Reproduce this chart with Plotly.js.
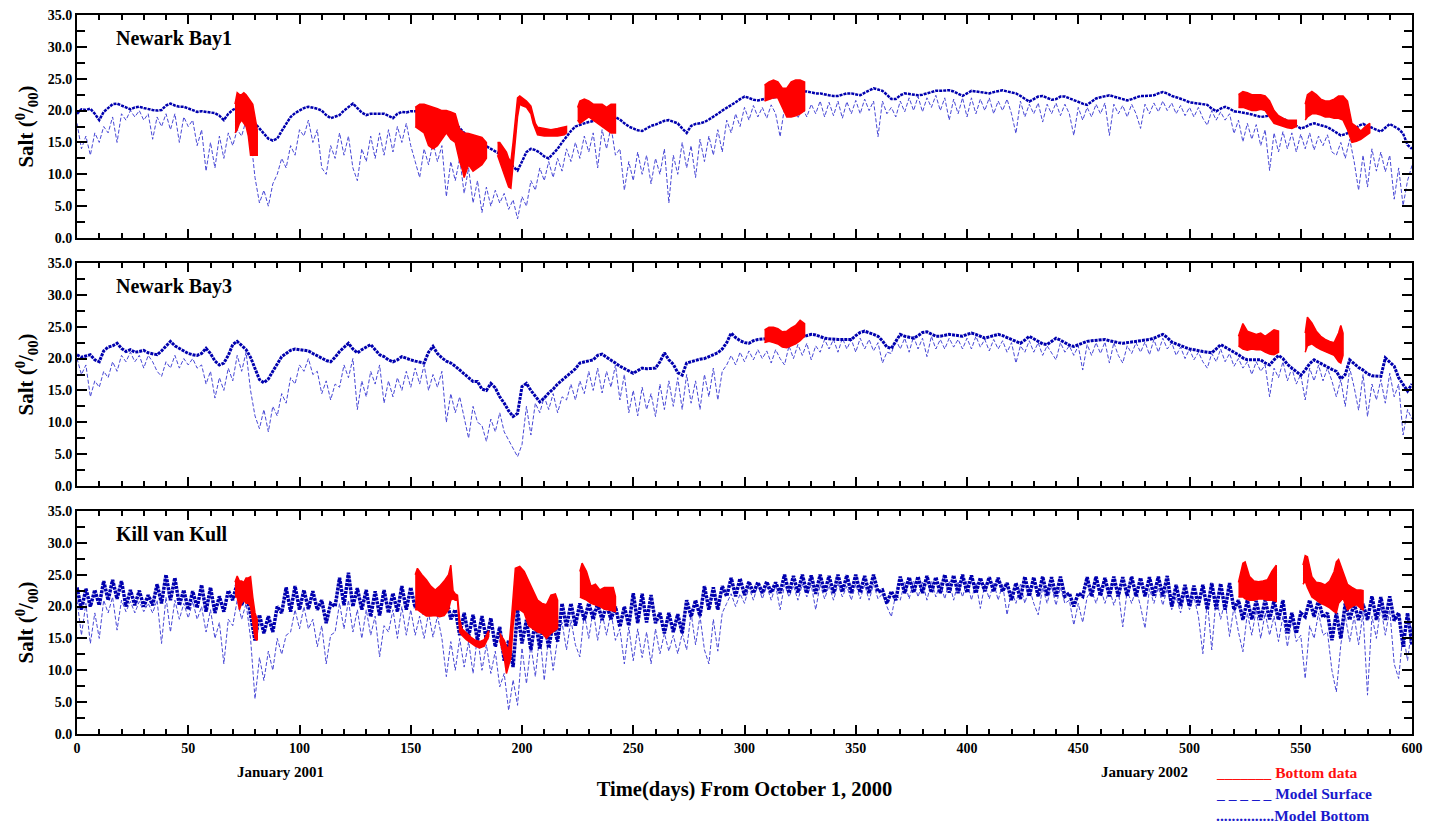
<!DOCTYPE html>
<html><head><meta charset="utf-8">
<script src="https://cdn.plot.ly/plotly-3.0.1.min.js"></script>
<style>html,body{margin:0;padding:0;background:#fff}</style>
</head><body><div id="chart" style="width:1429px;height:825px"></div>
<script>
// ---- model series: one value every STEP days, day 0..600 ----
const STEP = 2;
const nb1Bottom = [
19.5,20.2,20.1,20.3,19.5,18.5,19.8,20.4,21,21.1,20.8,20.6,20.2,20.5,20.6,20.4,20.2,20.1,20,20.1,20.8,21.1,20.8,20.6,20.6,
20.3,20,19.8,19.9,19.8,19.7,19.6,19.2,18.5,19.5,20.1,20.5,20,19.5,18.8,18,17.2,16.4,15.6,15.3,15.6,16.8,18,19,19.6,
20,20.4,20.6,20.5,20.3,20,19.3,18.8,19,19.3,20,20.6,21.1,20.4,19.7,19.3,19.5,19.5,19.5,19.5,19.2,18.8,19.5,19.8,19.7,
19.9,19.9,19.8,19.6,19.5,19.4,19.5,19.5,19.2,18.5,18,17.2,16.5,16,15.6,15.2,14.8,14.3,14,13.6,13.2,13,12.2,11.2,10.6,
12,13.5,14,13.8,13.4,12.8,12.5,13.2,14,15,15.9,16.8,17.5,17.8,18,18.2,18.3,18.5,18.8,19.2,19.3,19,18.6,18,17.5,
17.2,16.9,16.8,17.2,17.6,17.8,18.1,18.4,18.5,18.3,18,17.2,16.5,17.6,17.9,18,18.2,18.6,19,19.5,20,20.4,20.9,21.3,21.8,
22.2,22,21.7,21.6,21.8,21.9,22,22.1,22.2,22.3,22.4,22.6,22.8,23,23,22.8,22.7,22.7,22.5,22.4,22.3,22.3,22.5,22.7,22.7,
22.5,22.4,22.8,23.2,23.5,23.3,23.1,22.5,21.8,21.8,22.4,22.7,22.6,22.5,22.4,22.5,22.7,22.9,23.1,23.1,23.1,23.2,23,22.6,22.3,
22.7,23.1,23,22.9,22.8,22.7,22.9,23.1,23.2,23,22.8,22.7,22.3,21.8,21.4,21.8,22.2,22.3,22,21.7,21.8,22.2,22.2,21.9,21.6,
21.4,21.1,20.9,21.4,21.9,22.1,22.3,22.4,22.2,22,21.8,21.6,21.8,22.1,22.3,22.3,22.3,22.4,22.7,22.9,22.7,22.3,22.1,21.9,21.6,
21.3,21.2,21.1,21,20.9,20.3,19.9,20.3,20.6,20.3,19.9,19.8,19.7,19.5,19.4,19.2,19,19.1,19.2,19.3,19,18.7,18.5,18.1,17.6,
17.2,17.4,17.8,18,17.8,17.6,17.4,17,16.5,16.1,16.3,16.6,16.9,17.6,17.9,17.6,17.3,17,16.7,17.3,17.9,17.5,17.1,16.4,14.6,
14];
const nb1Surface = [
18,14,16,13,16.5,15,17.5,16.5,19,15,19.5,18.5,20,19,20,18.5,19.5,15.5,19,17.5,19.5,17,19.5,15,19,
17.5,18.5,14.5,17,10.5,15,11,16,12.5,16.5,14.5,17,16,18.5,16,9.5,5.5,7.5,5,8.5,10,12.5,11,14.5,13,
17,16,18.5,15,17,11,10,14.5,12.5,16.5,13,16,11,9,14,12,16,12.5,16.5,13,17,13.5,17.5,15,18,
14.5,12,9.5,14,11.5,15,12,14.5,6.5,12,9,12.5,7,11,5.5,9,4,8,5,7.5,5.5,7,4.5,6,3,
6.5,5,9,7.5,11,9,12,9.5,12.5,10.5,14,12,15,12.5,16,13.5,16.5,11,17,14,17.5,13,14,7.5,12,
9,13.5,10,13,8.5,12.5,10,14,5.5,13,10,15,11,14.5,9.5,15.5,12,16,13,17,13.5,18.5,16.5,19.5,17.5,
20.5,18.5,20.8,19,20.5,18.8,20.9,19.5,15.9,20.5,19,20.8,18.8,20.5,19,21,19.5,21.5,19,21.3,19.2,21.5,18.8,21.4,19.5,
21.6,19.5,21.8,20,21.5,15.9,21.5,19.5,20.5,19,21.5,19.8,22,20,22.2,19.8,22,20.5,22.4,20,22,18.5,21.8,19.5,22,
19,22,19.5,21.8,20,22,19.5,21.5,20,21.8,19.5,16.4,21.5,19,21,19.5,21.2,18.2,21,19.5,21.2,19.2,21,19.5,16.1,
20.5,18.5,20.5,19,21,19.5,21.2,16.1,21,19.5,20.8,19,21,19.5,17.2,21,19.5,21.2,19.8,21.5,20,21.2,19.5,20.8,19.2,
20.5,19,20.5,18.8,17.7,20,18.5,19.8,18.5,19.5,16.4,18.5,15.1,18,15.5,17.8,14.5,17,10.6,16.5,13.5,16.7,14,16.5,13.5,
16.3,14,16.5,13.8,16,14.5,16.2,13.5,13,15,12.5,15.5,12,7.5,13,8,14,10.5,13.5,10.4,13,6.1,11,5.1,9,
11.4];
const nb3Bottom = [
20.6,20.2,20.4,20.6,19.8,19.5,21.2,21.8,22,22.4,21.6,21.1,21.4,21,21.1,21.3,20.9,20.8,20.6,21.2,22,22.7,22,21.6,21.2,
20.8,20.6,20.5,20.8,21.6,20.8,19.6,19,19.3,20.5,22.2,22.7,22,21.4,20.2,18.5,16.7,16.2,16.8,18,19.2,20.3,20.8,21.3,21.5,
21.4,21.4,21.2,20.8,20.4,20,19.7,19.5,20.2,21.1,21.8,22.4,21.5,20.9,21.4,21.8,22.2,21.4,20.6,20.3,19.8,19.5,19.8,20.3,20,
19.8,19.6,19.4,19.3,21,21.9,20.8,20.1,19.6,19.3,18.8,18.2,17.6,16.9,16.4,16.4,15.2,15,16.1,15.4,14,13,11.8,10.9,11.4,
15.6,16.1,15,14,13.2,13.8,14.6,15.2,16,16.6,17.2,17.7,18.4,19.3,19.5,19.7,19.8,20.5,20.7,20.2,19.8,19.3,18.8,18.4,18,
17.7,18.1,18.5,18.4,18.5,18.5,19.5,20.9,19.8,19.1,17.8,17.4,19.3,19.5,19.8,19.9,20,20.3,20.5,20.9,21.5,22.5,24,23.3,22.8,
22.5,22.4,22.8,23,23.1,23.2,23.2,22.9,22.6,22.4,22.7,23,23.2,23.4,23.6,23.8,23.7,23.4,23.2,23.1,23,23,23,23,23,
23.6,24.1,24.3,24.1,23.8,23.5,22.8,21.8,21.6,22.7,23.8,23.5,23.3,23.2,23.6,24.1,24.2,23.8,23.5,23.5,23.6,23.8,23.7,23.6,23.5,
23.8,24,23.8,23.5,23.2,23.4,23.6,23.8,23.6,23.3,23,22.8,22.4,22.9,23.5,23.1,22.7,22.3,22.2,22.7,23.2,22.9,22.5,22.1,21.9,
22.2,22.4,22.7,22.8,22.9,23,23,22.8,22.6,22.5,22.4,22.5,22.6,22.7,22.7,22.9,23,23.2,23.5,23.8,23.3,22.6,22.3,22,21.7,
21.5,21.4,21.2,21.1,21,20.9,21.5,22.2,21.8,21.4,21.1,20.6,20.1,19.8,19.8,19.8,19.8,19.3,19,19.8,20.5,20,19.1,18.5,17.9,
17.4,18.2,19.2,19.8,19.4,19,18.7,18.3,18,16.8,17.5,19.8,19.2,18.6,18.2,17.6,17.3,17.2,17.2,20.1,19.4,18.8,17,15.9,14.9,
16];
const nb3Surface = [
20,17.5,19,14,16.5,15.5,18,17,19.5,18,20.5,19.5,21,19.5,20.5,18.5,20.5,19.5,18,17.2,19.5,18.5,20.5,18.5,20,
19,20,18.5,19,16,18,13.8,17,15,18.5,16.5,20.5,18,21,15,11,9,12,8.5,12.5,11,14.5,13,17,16,
19,18,20,17.5,18,14.5,16.5,13.5,16,15.5,19,17,20,12,16.5,14,18,16,19,13,16.5,14,17,15,18,
15.5,18.5,16,19,15,17.5,15.5,18,10,14.5,11.5,14,10.5,7.5,12.5,10,9.5,7,10.5,8.5,11.5,8.5,7.2,6,4.6,
6.5,12.5,8,13,11.5,14,12,14.5,11.5,14,13.5,16,13.5,16.5,14.5,18,15,18.5,14.6,18,15.5,19,13.5,17.5,11.5,
15,11,15.5,12,14.5,10.9,16,12,16.5,12.5,17,12,17.5,13,16.5,12,17.5,14,18.5,13.5,18,19,20.5,19,21,
19.5,21.2,19.8,21.4,20,21.2,19.3,21.4,20,19,22,20,22.2,20.5,22.4,19.8,22,21,23,21.5,23,21,23.2,21.5,23,
21,23.2,21.5,23,21.2,22.5,19.3,21,20.8,23,21.5,23.2,21,23.5,21.5,23.2,20.3,23.5,21.5,23,21.5,23.2,21.8,23,21.5,
23.2,21.5,23.5,21.8,23,21.2,23,21.5,22.8,21,22.5,19.3,22,21,22.8,21,22.5,20.5,22,20.8,19.8,22.5,21,22,20.5,
22,18.2,22.2,20.5,22.5,20.8,22.6,19.3,22.5,20.5,19.3,22,20.8,22.5,21,22.6,20.6,23,21,23.2,21.5,22.5,20.5,21.8,20,
21.5,19.8,21,19.5,18.5,20.8,19.5,21.5,19.5,20.8,18.8,20,18.5,19.5,17.5,19.5,18,19,14,18.5,17,19.5,16.5,18.5,16,
17.5,13.5,18.5,16.5,19,16.5,18.5,16.5,14,16.7,12.5,18.5,15.5,11.9,17.5,10.9,16,13.5,16.7,13,17.7,14,16,8,12,
10.5];
const kvkBottom = [
23,19.5,22.8,20,22.6,20.2,24,21,24.2,21.2,24,20,22.6,20.2,22.5,20,21.8,20.2,23.5,20.5,25,21,24.5,20.2,22.6,
19.5,22.4,19.8,23.4,19.2,23,19,21.6,19.2,22.5,21,23.7,20.2,22.6,19,14.7,18.7,15.8,18.5,16,20,19,23,19.2,23.2,
19.5,22.6,19.6,22.4,19.5,21,17.4,20.5,20,24.5,20.2,25.3,20,22.9,19.5,22.6,18.4,22.4,18.6,22.6,19,22.1,19.2,23.2,19.5,
23,19.8,21.6,18.7,21.5,18.8,21.6,18.7,21.4,18,19.5,15.5,19,15.3,18.7,14.7,18.5,14.8,18.2,13.7,16.8,11.5,14.7,10.5,19.5,
14.2,17.9,13.2,17.8,13.4,17.9,13.5,17.5,14.5,20.5,16.8,20.5,17,20.5,17.9,20.5,18,20.5,17.9,20.3,18,20,16.8,20,17,
22.1,17.4,22,17.5,21.8,17.4,19,15.8,19,16,18.8,15.8,21,18.4,21,18.5,23.2,19.5,23,19.5,23.2,21.6,24.5,21.6,24.4,
21.8,23.9,22.1,23.8,22.1,23.9,22.2,23.8,22.1,25,22.1,24.8,22.2,25,22.1,24.9,22,25,22.2,24.8,22.1,25,22.3,24.9,22.1,
25,22.2,24.8,22.1,25,22.3,22.6,20.5,22.4,21,24.7,22.1,24.6,22.2,24.7,22.1,24.8,22.2,24.6,22.1,25,22.2,24.9,22.1,25,
22.2,24.9,22.1,24.5,22.4,24.6,22.4,24.5,22.4,23.7,21,23.7,21.2,24.7,21.6,24.6,21.6,24.7,21.7,24.6,21.6,24.7,21.6,22.1,20,
22.1,21.6,24.6,21.6,24.7,21.7,24.5,21.6,24.7,21.6,24.6,21.7,24.7,21.6,24.5,21.6,24.6,21.7,24.7,21.6,24.8,20,23.4,20.1,23.4,
20,23.3,20.2,23.4,19.5,23.7,19.6,23.6,19.5,23.7,19.5,21,17.9,21,18,20.9,17.9,21,18,20.9,17.9,21,15.8,19,15.8,
19,18.4,21,18.4,21,18.3,19,14.7,19,15,20.5,17.9,20.5,17.9,20.4,17.9,21.6,17.9,21.5,17.9,21.6,17.8,19,13.7,19,
14];
const kvkSurface = [
21,15.5,20.5,14.2,19,15,21,19,21.5,16.3,21,19.2,20.8,19,20.8,19.2,20.5,19,21,14.2,21.5,16,21,18,20.5,
18.2,20.8,18,20,16,19.5,15,17.5,11,18,17,21,18,20.5,15,5.5,12,8.4,13,10,15,12.5,15.5,16,19.5,
16.5,20,16.5,18,13.7,17,11,15.5,16,20.5,16.5,21,16,19.5,15,19.5,15.5,18.5,12.1,17,16,19.5,15,20,15.5,
19.5,15.5,18.5,15,19,15.2,18.5,15,9,14.5,10,15,10.5,14.5,9.5,15.5,10,14,9.5,13,7.4,9.5,3.7,8.5,4.5,
13.5,7.9,14,9,15.8,8.4,15.5,10,15,17.5,13.2,17.9,14,12.1,19,15,19.5,14.7,19,15.5,19.2,14.7,16.5,11,16.8,
11.5,16.5,12,16,11,16.5,12.6,15.8,13,15.5,12.6,15.8,13.2,19,14,18.5,13.2,11,18,13,19,20.5,22,20,22,
20.5,23,21,23.5,21.2,23.2,21,23.3,19.5,23.5,21.5,23.3,21,23.5,21.5,23.4,19.5,23.5,21.2,23.3,21,23.5,21.5,23.2,21,
23.5,21.2,23.4,21,23.5,21.2,22,20,18.4,22,21,23.8,21.2,24,21.5,23.8,21,24,21.5,23.8,21.2,24,21,23.8,21.5,
24,21,23.8,19.7,23.5,21.2,23.8,21,23.5,18.7,22.5,20.5,23.5,20.5,23,20.5,18.7,23,20.5,23.2,20.2,23,20.5,21,17.1,
20.5,17.5,21.5,22.5,20.5,23,20.5,22.8,20.2,22.5,16.8,22.5,20.5,22.8,20,16.6,22.8,20.5,23,20.2,22.8,19.5,21.5,19,22,
19.5,21.5,18.5,12.6,21,13.2,21.5,18,21,15.3,20,16,12.9,19,15.5,19.5,15,19,15.5,18.5,14.5,18.5,13.7,18,14.5,
15.5,8.7,17,15,19,15.5,16,10,6.6,14,18.5,14.5,18.5,14,19,6.1,18.5,15,20,15.5,19.5,11,8.7,16,11.5,
17];

// ---- bottom data (observed): day, low and high of the tidal range; null separates records ----
const nb1RedDays = [71,72,73,74,75,76,77,78,79,80,81,null,
 152,154,156,158,160,162,164,166,168,170,172,173,174,176,178,180,182,184,null,
 189,190,191,192,193,194,195,196,197,198,199,200,202,204,205,206,207,210,213,216,219,220,null,
 225,226,228,230,232,234,236,238,240,242,null,
 309,311,313,315,317,319,321,323,325,327,null,
 522,524,526,528,530,532,534,536,538,540,542,544,546,548,null,
 552,553,555,557,559,561,563,565,567,569,571,573,575,577,579,581];
const nb1RedLow = [16.5,17,18,18.5,18,17.5,16,13,13,13,13,null,
 17.5,17,16.5,14.5,14,14.5,15.5,16.5,15.5,15,12,11,9.5,11.5,10.5,11,11.5,12.5,null,
 13,12,11,10,9,8,7.8,11,15,19,21,20.8,20.5,19.5,18,17,16.2,16,16,16,16.2,16.5,null,
 18.5,18,18.5,19,18.5,18,17.5,17,16.5,16.5,null,
 21.5,21.8,22,22,20.5,19,19,19.2,19.5,20,null,
 20.5,20.5,20.2,20,20,20.2,20,19,18,17.8,17.5,17.3,17.2,17.5,null,
 18.5,19,19.5,19.5,19.3,19,19,18.8,18.8,18.5,17,15,15.2,15.5,16,16.5];
const nb1RedHigh = [21,22.8,22.5,22.5,22.8,22.5,22,21.5,21,19,17,null,
 20.5,21,21,20.8,20.5,20.3,20,20,19.8,19.5,17,16.8,16.5,16.4,16.2,16,15.8,15,null,
 15,15,14.5,14,13.5,12.5,12,15,19,22,22.3,22,21.5,20.7,19.5,18,17.4,17.2,17,17.2,17.4,17.5,null,
 20.5,21.5,21.8,21.5,21,21,21,20.5,21,21,null,
 24,24.5,24.8,24.5,23.5,23.5,24.5,24.8,24.8,24.5,null,
 22.5,23,22.8,22.5,22.5,22.5,22.3,21.5,20,19.2,18.8,18.5,18.5,18.5,null,
 21,22.5,23,22.5,21.8,21.5,21.5,21.8,22.3,22.3,21.5,18,17.5,16.8,17.5,18];

const nb3RedDays = [309,311,313,315,317,319,321,323,325,327,null,
 522,524,526,528,530,532,534,536,538,540,null,
 552,553,555,557,559,561,563,565,567,568,569];
const nb3RedLow = [22.5,22.7,22.5,22.3,21.8,21.7,22,22.3,22.8,23.5,null,
 22,21.5,21.3,21.5,21.4,21.4,21,20.7,20.6,21,null,
 21,22,22.3,21.8,21.4,21,20.8,20.5,19.5,19.3,20.5];
const nb3RedHigh = [24.5,24.9,24.9,24.7,24.2,24.3,24.8,25.2,26,25.5,null,
 23.5,25.5,24.3,24,23.8,24,23.5,24,24.5,24.3,null,
 24,26.5,25.6,24.3,23.5,23,22.7,22.5,24,25.2,24];

const kvkRedDays = [71,72,73,74,75,76,77,78,79,80,81,null,
 152,153,155,157,159,161,163,165,167,168,169,170,171,172,173,175,177,179,181,183,184,185,null,
 190,191,192,193,194,195,196,197,199,201,203,205,207,209,211,213,215,216,null,
 226,227,229,231,233,235,237,239,241,242,null,
 522,524,525,527,529,531,533,535,537,539,null,
 551,552,553,555,557,559,561,563,565,566,567,569,571,573,575,577,578];
const kvkRedLow = [21.5,21.5,19.5,20.5,21,20.5,20.5,20,17.5,15,14.7,null,
 19.5,19.5,19,18.5,18.5,18.6,18.4,18.6,19.5,21,21.2,21,21,16,15.5,14.8,14.3,13.8,13.5,13.8,14.5,15.3,null,
 14.7,13.5,12,9.5,10.5,12,17,19.5,19.5,19,17,16.5,16,15.8,15,15.8,16.3,16.6,null,
 21.5,21.3,21,20.5,20.3,20,19.6,19.5,19.3,19.2,null,
 21.5,21.5,21.2,21,21,21.2,21.2,21,21,20.8,null,
 23.5,24,23,21.5,21,20.5,20.2,19.8,19.2,19,20.5,21.3,19.5,20,20.3,19.7,19.5];
const kvkRedHigh = [23.8,24.8,24,24,23.8,24.5,24.5,24.7,21.5,19,18,null,
 25,26,25,24.2,23.2,22.6,23.2,24,25,26.5,22.5,22,21.8,18,16.5,15.8,15.2,14.7,14.5,14.8,15.5,16.2,null,
 15.8,15.2,14.7,13.8,13.2,17,21,26,26.3,25.5,24,22.6,21,20.5,20.3,21.8,22,21,null,
 25.5,26.8,25.5,23.2,23.5,22.6,23,23,23,21.6,null,
 23.8,26.8,27,24.7,24,23.9,24,24.2,25.5,26.5,null,
 26.5,28,27.8,24.7,23.8,23.7,23.4,24,25.5,27,27.4,25.5,23.5,23,22.6,22.6,22.5];

const panelNames = ['Newark Bay1','Newark Bay3','Kill van Kull'];
const yTickVals = [0,5,10,15,20,25,30,35];

// ---------------- drawing ----------------
const FONT = '"Liberation Serif","Times New Roman",Times,serif';
const SURF_COLOR = 'rgb(72,72,214)';
const BOT_COLOR = 'rgb(0,0,175)';
const RED = '#ff0000';

function dayAxis(vals){ return vals.map((v,i)=>i*STEP); }
function segments(days, lo, hi){
  const out=[]; let cur={x:[],lo:[],hi:[]};
  days.forEach((d,i)=>{
    if(d===null){ if(cur.x.length) out.push(cur); cur={x:[],lo:[],hi:[]}; }
    else { cur.x.push(d); cur.lo.push(lo[i]); cur.hi.push(hi[i]); }
  });
  if(cur.x.length) out.push(cur);
  return out;
}
function modelTraces(surf, bot, xa, ya, botWidth){
  return [
    {type:'scatter',mode:'lines',x:dayAxis(surf),y:surf,xaxis:xa,yaxis:ya,
     line:{color:SURF_COLOR,width:1,dash:'4px,2px'},hoverinfo:'skip',showlegend:false,name:'Model Surface'},
    {type:'scatter',mode:'lines',x:dayAxis(bot),y:bot,xaxis:xa,yaxis:ya,
     line:{color:BOT_COLOR,width:botWidth,dash:'3px,1px'},hoverinfo:'skip',showlegend:false,name:'Model Bottom'}
  ];
}
function redTraces(days, lo, hi, xa, ya){
  return segments(days, lo, hi).map(s=>({
    type:'scatter',mode:'lines',
    x:s.x.concat(s.x.slice().reverse()),
    y:s.hi.concat(s.lo.slice().reverse()),
    fill:'toself',fillcolor:RED,line:{color:RED,width:1.5},
    xaxis:xa,yaxis:ya,hoverinfo:'skip',showlegend:false,name:'Bottom data'}));
}

const traces = [].concat(
  modelTraces(nb1Surface, nb1Bottom, 'x', 'y', 2.5),
  modelTraces(nb3Surface, nb3Bottom, 'x2', 'y2', 3),
  modelTraces(kvkSurface, kvkBottom, 'x3', 'y3', 3.5),
  redTraces(nb1RedDays, nb1RedLow, nb1RedHigh, 'x', 'y'),
  redTraces(nb3RedDays, nb3RedLow, nb3RedHigh, 'x2', 'y2'),
  redTraces(kvkRedDays, kvkRedLow, kvkRedHigh, 'x3', 'y3')
);

const tickFont = {family:FONT,size:14,color:'#000',weight:'bold'};
function xAxis(anchor, labels, title){
  const a = {anchor:anchor,domain:[0,1],range:[0,600],tick0:0,dtick:50,
    ticks:'inside',ticklen:9,tickwidth:2,tickcolor:'#000',
    minor:{dtick:10,ticks:'inside',ticklen:5,tickwidth:2,tickcolor:'#000'},
    showline:true,linewidth:2,linecolor:'#000',mirror:'ticks',
    showgrid:false,zeroline:false,showticklabels:labels,tickfont:tickFont,fixedrange:true};
  if(title) a.title = {text:title,font:{family:FONT,size:20.5,color:'#000',weight:'bold'},standoff:27};
  return a;
}
function yAxis(anchor, domain){
  return {anchor:anchor,domain:domain,range:[0,35],tickvals:yTickVals,tickformat:'.1f',
    ticks:'inside',ticklen:10,tickwidth:2,tickcolor:'#000',
    minor:{dtick:2.5,ticks:'inside',ticklen:8,tickwidth:2,tickcolor:'#000'},
    showline:true,linewidth:2,linecolor:'#000',mirror:'ticks',
    showgrid:false,zeroline:false,tickfont:tickFont,fixedrange:true,
    title:{text:'Salt (<sup>0</sup>/<sub>00</sub>)',font:{family:FONT,size:21,color:'#000',weight:'bold'},standoff:8}};
}

const annFont = (size,color)=>({family:FONT,size:size,color:color||'#000',weight:'bold'});
const annotations = [];
['y','y2','y3'].forEach((ya,i)=>{
  annotations.push({xref:(i===0?'x':'x'+(i+1))+' domain',yref:ya+' domain',x:0.028,y:0.895,
    xanchor:'left',yanchor:'middle',showarrow:false,text:panelNames[i],font:annFont(20)});
});
annotations.push(
  {xref:'paper',yref:'paper',x:0.1528,y:-0.0528,xanchor:'center',yanchor:'middle',showarrow:false,text:'January 2001',font:annFont(15)},
  {xref:'paper',yref:'paper',x:0.7993,y:-0.0528,xanchor:'center',yanchor:'middle',showarrow:false,text:'January 2002',font:annFont(15)},
  {xref:'paper',yref:'paper',x:0.852,y:-0.0542,xanchor:'left',yanchor:'middle',showarrow:false,text:'_______ Bottom data',font:annFont(15.5,'#ff1010')},
  {xref:'paper',yref:'paper',x:0.852,y:-0.0834,xanchor:'left',yanchor:'middle',showarrow:false,text:'_ _ _ _ _ Model Surface',font:annFont(15.5,'#1a1acc')},
  {xref:'paper',yref:'paper',x:0.852,y:-0.1127,xanchor:'left',yanchor:'middle',showarrow:false,text:'...............Model Bottom',font:annFont(15.5,'#1a1acc')}
);

const layout = {
  width:1429,height:825,margin:{l:77,r:17,t:15,b:91},
  paper_bgcolor:'#fff',plot_bgcolor:'#fff',showlegend:false,
  font:{family:FONT,color:'#000'},
  xaxis:xAxis('y',false),
  xaxis2:xAxis('y2',false),
  xaxis3:xAxis('y3',true,'Time(days) From October 1, 2000'),
  yaxis:yAxis('x',[0.6898,1]),
  yaxis2:yAxis('x2',[0.3449,0.6551]),
  yaxis3:yAxis('x3',[0,0.3102]),
  annotations:annotations
};
Plotly.newPlot('chart',traces,layout,{staticPlot:true,displayModeBar:false});
</script>
</body></html>
